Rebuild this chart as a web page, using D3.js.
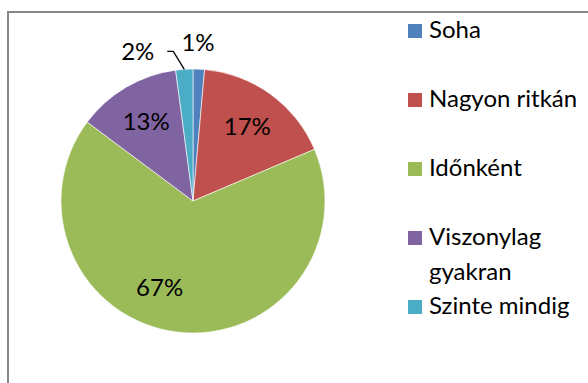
<!DOCTYPE html>
<html>
<head>
<meta charset="utf-8">
<script src="https://cdn.jsdelivr.net/npm/d3@7"></script>
<style>
  body { margin: 0; background: #fff; }
  svg { display: block; }
</style>
</head>
<body>
<svg id="chart" width="588" height="383"></svg>
<script>
// Survey answers: how often (share of respondents, %)
const categories = ["Soha", "Nagyon ritkán", "Időnként", "Viszonylag gyakran", "Szinte mindig"];
const shares = [1.4, 17.2, 66.6, 12.7, 2.1];
const legendLines = [["Soha"], ["Nagyon ritkán"], ["Időnként"], ["Viszonylag", "gyakran"], ["Szinte mindig"]];
const colors = ["#4F81BD", "#C0504D", "#9BBB59", "#8064A2", "#4BACC6"];

const W = 588, H = 383;
const FONT = "Lato, 'Open Sans', sans-serif";
const svg = d3.select("#chart");

// chart area frame (runs off the right and bottom edges)
svg.append("rect")
  .attr("x", 8).attr("y", 12)
  .attr("width", W + 20).attr("height", H + 20)
  .attr("fill", "none").attr("stroke", "#868686").attr("stroke-width", 2);

const cx = 193, cy = 201, R = 132;
const g = svg.append("g").attr("transform", `translate(${cx},${cy})`);

const data = categories.map((c, i) => ({ name: c, value: shares[i], color: colors[i] }));
const pie = d3.pie().value(d => d.value).sort(null);
const arcs = pie(data);
const arc = d3.arc().innerRadius(0).outerRadius(R);

g.selectAll("path.slice").data(arcs).join("path")
  .attr("class", "slice")
  .attr("d", arc)
  .attr("fill", d => d.data.color)
  .attr("stroke", "#fff").attr("stroke-width", 0.6);

const pct = d => `${Math.round(d.data.value)}%`;
const mid = d => (d.startAngle + d.endAngle) / 2;
const polar = (a, r) => [r * Math.sin(a), -r * Math.cos(a)];

// inside labels for the larger slices, outside for the thin ones
const angleNudge = { "Időnként": 0.25 };
arcs.forEach(d => {
  const a = mid(d) + (angleNudge[d.data.name] || 0);
  if (d.data.value >= 5) {
    const [x, y] = polar(a, R * 0.7);
    g.append("text").attr("x", x).attr("y", y).attr("dy", "0.35em")
      .attr("text-anchor", "middle").attr("font-family", FONT).attr("font-size", 24)
      .attr("fill", "#000").text(pct(d));
  }
});

// "Soha": label just above the slice
{
  const d = arcs[0];
  const [x, y] = polar(mid(d), R * 1.2);
  g.append("text").attr("x", x - 2).attr("y", y).attr("dy", "0.35em")
    .attr("text-anchor", "middle").attr("font-family", FONT).attr("font-size", 24)
    .attr("fill", "#000").text(pct(d));
}
// "Szinte mindig": label to the upper left with a leader line
{
  const d = arcs[4];
  const [px, py] = polar(mid(d), R);
  const ex = px - 11, ey = py - 18;
  g.append("path")
    .attr("d", d3.line()([[px, py], [ex, ey], [ex - 6, ey]]))
    .attr("fill", "none").attr("stroke", "#000").attr("stroke-width", 1.3);
  g.append("text").attr("x", ex - 19).attr("y", ey).attr("dy", "0.35em")
    .attr("text-anchor", "end").attr("font-family", FONT).attr("font-size", 24)
    .attr("fill", "#000").text(pct(d));
}

// legend
const legendX = 408, firstBaseline = 38, step = 69, lineH = 35, sw = 14;
const lg = svg.append("g");
legendLines.forEach((lines, i) => {
  const base = firstBaseline + step * i;
  lg.append("rect").attr("x", legendX).attr("y", base - sw).attr("width", sw).attr("height", sw)
    .attr("fill", colors[i]);
  const t = lg.append("text").attr("x", legendX + 21).attr("y", base)
    .attr("font-family", FONT).attr("font-size", 24).attr("fill", "#000");
  lines.forEach((ln, k) => {
    t.append("tspan").attr("x", legendX + 21).attr("y", base + k * lineH).text(ln);
  });
});
</script>
</body>
</html>
